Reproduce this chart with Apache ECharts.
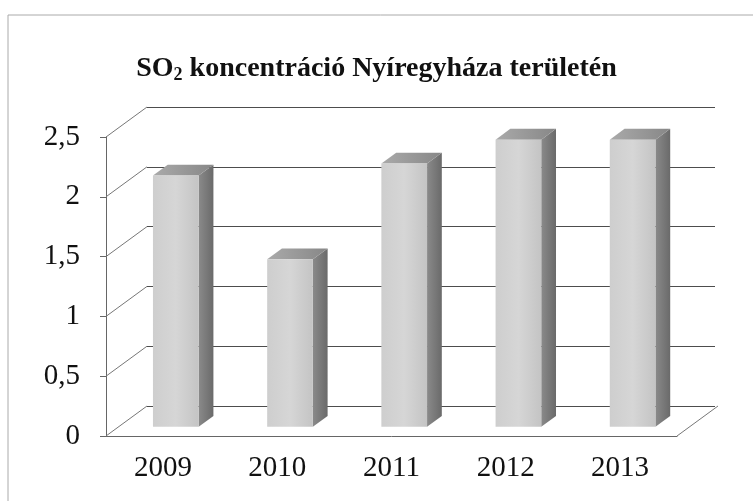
<!DOCTYPE html>
<html>
<head>
<meta charset="utf-8">
<script src="https://cdn.jsdelivr.net/npm/echarts@6/dist/echarts.min.js"></script>
<style>
  html, body {margin:0; padding:0; background:#fff}
  #chart {width:753px; height:501px}
</style>
</head>
<body>
<div id="chart"></div>
<script>
// adatok
let years = ['2009', '2010', '2011', '2012', '2013']
let so2 = [2.1, 1.4, 2.2, 2.4, 2.4]
let yTicks = [0, 0.5, 1, 1.5, 2, 2.5]

// 3D eltolás (hátfal felé)
let DX = 41, DY = -30
let serif = '"Liberation Serif", "DejaVu Serif", serif'

function barItem(params, api){
  let i = api.value(0), v = api.value(1)
  let band = api.size([1, 0])[0], w = band * 0.4
  let top = api.coord([i, v]), base = api.coord([i, 0])
  let f1 = 0.31, f2 = 0.67
  let x1 = top[0] - w / 2 + DX * f1, x2 = x1 + w
  let y1 = top[1] + DY * f1, yb = base[1] + DY * f1
  let ox = DX * (f2 - f1), oy = DY * (f2 - f1)
  return {
    type: 'group',
    children: [
      { type: 'polygon', shape: {points: [[x2, y1], [x2 + ox, y1 + oy], [x2 + ox, yb + oy], [x2, yb]]},
        style: {fill: new echarts.graphic.LinearGradient(0, 0, 1, 0, [{offset: 0, color: '#8a8a8a'}, {offset: 1, color: '#6a6a6a'}])} },
      { type: 'polygon', shape: {points: [[x1, y1], [x2, y1], [x2 + ox, y1 + oy], [x1 + ox, y1 + oy]]},
        style: {fill: new echarts.graphic.LinearGradient(0, 0, 1, 0, [{offset: 0, color: '#aaaaaa'}, {offset: 1, color: '#878787'}])} },
      { type: 'rect', shape: {x: x1, y: y1, width: w, height: yb - y1},
        style: {fill: new echarts.graphic.LinearGradient(0, 0, 1, 0, [{offset: 0, color: '#cecece'}, {offset: 0.5, color: '#d6d6d6'}, {offset: 1, color: '#c4c4c4'}])} }
    ]
  }
}

// bal oldali fal ferde vonalai + jobb alsó él
function sideLine(params, api){
  let i = api.value(0), v = api.value(1)
  let band = api.size([1, 0])[0]
  let p = api.coord([i, v])
  let x = i == 0 ? p[0] - band / 2 : p[0] + band / 2
  return { type: 'line', shape: {x1: x, y1: p[1], x2: x + DX, y2: p[1] + DY},
    style: {stroke: '#777', lineWidth: 1} }
}

let option = {
  backgroundColor: '#fff',
  animation: false,
  title: {
    left: 'center',
    top: 47,
    text: '{a|SO}{s|2}{a| koncentráció Nyíregyháza területén}',
    textStyle: {
      rich: {
        a: {fontFamily: serif, fontWeight: 'bold', fontSize: 28, color: '#111', lineHeight: 34},
        s: {fontFamily: serif, fontWeight: 'bold', fontSize: 18, color: '#111', lineHeight: 34, padding: [12, 0, 0, 0]}
      }
    }
  },
  graphic: [
    { type: 'polyline', shape: {points: [[8, 501], [8, 15], [753, 15]]}, style: {stroke: '#aaa', lineWidth: 1, fill: null}, silent: true }
  ],
  grid: [
    {left: 106, top: 137, width: 571, height: 299},
    {left: 147, top: 107, width: 568, height: 299}
  ],
  xAxis: [
    {
      gridIndex: 0, type: 'category', data: years,
      axisLine: {lineStyle: {color: '#666', width: 1}},
      axisTick: {length: 6, lineStyle: {color: '#666'}},
      axisLabel: {fontFamily: serif, fontSize: 29, color: '#111', margin: 18}
    },
    {gridIndex: 1, type: 'category', data: years, show: false}
  ],
  yAxis: [
    {
      gridIndex: 0, type: 'value', min: 0, max: 2.5, interval: 0.5,
      axisLine: {show: true, lineStyle: {color: '#666', width: 1}},
      axisTick: {show: true, length: 6, lineStyle: {color: '#666'}},
      splitLine: {show: false},
      axisLabel: {fontFamily: serif, fontSize: 29, color: '#111', margin: 26,
        formatter: v => String(v).replace('.', ',')}
    },
    {
      gridIndex: 1, type: 'value', min: 0, max: 2.5, interval: 0.5,
      axisLine: {show: false}, axisTick: {show: false}, axisLabel: {show: false},
      splitLine: {show: true, lineStyle: {color: '#4d4d4d', width: 1}}
    }
  ],
  series: [
    { type: 'custom', xAxisIndex: 0, yAxisIndex: 0, renderItem: sideLine, z: 1,
      data: yTicks.map(v => [0, v]).concat([[4, 0]]) },
    { type: 'custom', name: 'SO2', xAxisIndex: 0, yAxisIndex: 0, renderItem: barItem, z: 5,
      data: so2.map((v, i) => [i, v]) }
  ]
}

let myChart = echarts.init(document.getElementById('chart'))
myChart.setOption(option)
</script>
</body>
</html>
